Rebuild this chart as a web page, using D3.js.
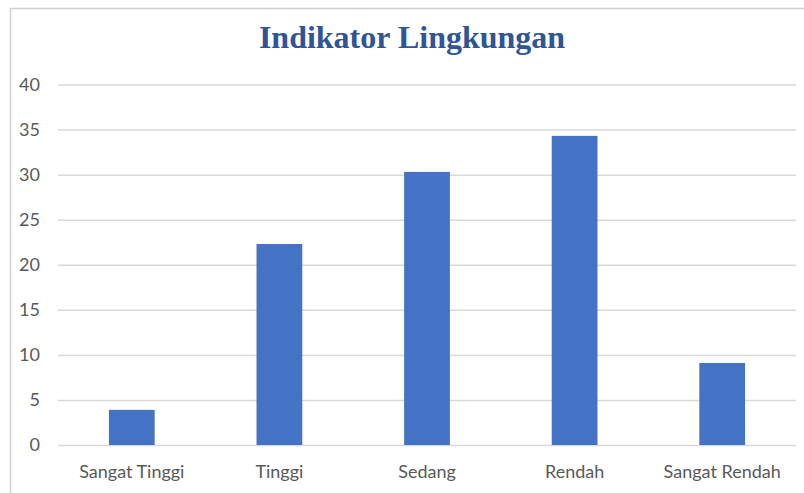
<!DOCTYPE html>
<html><head><meta charset="utf-8">
<script src="https://cdn.jsdelivr.net/npm/d3@7"></script>
<style>body{margin:0;background:#fff;}svg{display:block;}</style>
</head><body>
<script>
const categories = ["Sangat Tinggi", "Tinggi", "Sedang", "Rendah", "Sangat Rendah"];
const values = [3.9, 22.3, 30.3, 34.3, 9.1];
const yTicks = [0, 5, 10, 15, 20, 25, 30, 35, 40];
const title = "Indikator Lingkungan";

const W = 804, H = 493;
const svg = d3.select("body").append("svg").attr("width", W).attr("height", H);
svg.append("rect").attr("x", 10.5).attr("y", 8.5).attr("width", W + 10).attr("height", H + 10)
  .attr("fill", "#fff").attr("stroke", "#d0d0d0").attr("stroke-width", 1.5);

const x = d3.scaleBand().domain(categories).range([58, 796]).paddingInner(0.69).paddingOuter(0.345);
const y = d3.scaleLinear().domain([0, 40]).range([445, 84.5]);

const yAxis = svg.append("g").attr("transform", "translate(58,0)")
  .call(d3.axisLeft(y).tickValues(yTicks).tickSize(-738).tickPadding(18));
yAxis.select(".domain").remove();
yAxis.selectAll("line").attr("stroke", "#d9d9d9").attr("stroke-width", 1.5);
yAxis.selectAll("text").attr("fill", "#595959").style("font-family", "Lato, 'Open Sans', sans-serif").style("font-size", "18px");

svg.append("g").selectAll("rect").data(values).join("rect")
  .attr("x", (d, i) => x(categories[i]))
  .attr("width", x.bandwidth())
  .attr("y", d => y(d))
  .attr("height", d => y(0) - y(d))
  .attr("fill", "#4472C4");

const xAxis = svg.append("g").attr("transform", "translate(0,445)")
  .call(d3.axisBottom(x).tickSize(0).tickPadding(20));
xAxis.select(".domain").remove();
xAxis.selectAll("text").attr("fill", "#595959").style("font-family", "Lato, 'Open Sans', sans-serif").style("font-size", "18px");

svg.append("text").attr("x", 412).attr("y", 48).attr("text-anchor", "middle")
  .attr("fill", "#2F5597").style("font-family", "'Liberation Serif', 'Times New Roman', serif")
  .style("font-weight", "bold").style("font-size", "32px").text(title);
</script>
</body></html>
